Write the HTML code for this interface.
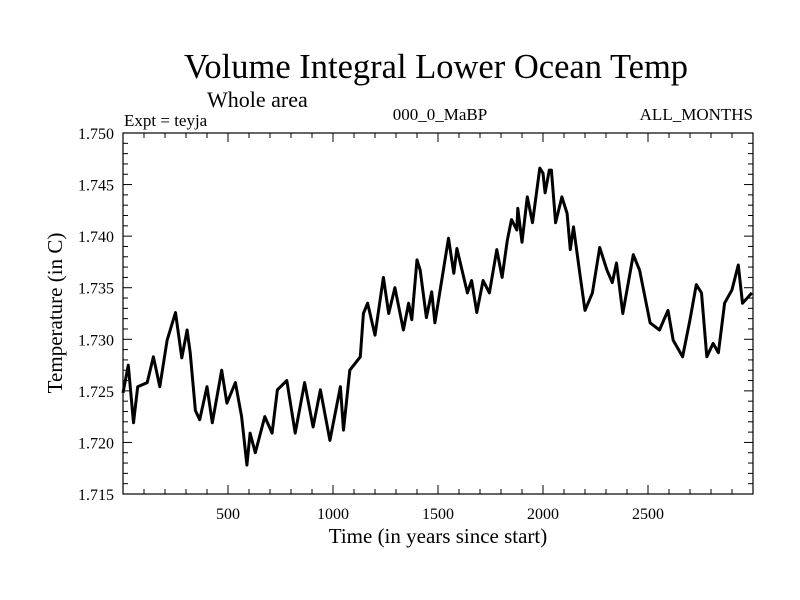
<!DOCTYPE html>
<html><head><meta charset="utf-8"><style>
body{margin:0;background:#fff;}
svg{display:block;font-family:"Liberation Serif",serif;}
</style></head><body>
<svg id="chart" width="800" height="600">
<text x="436" y="78" font-size="34.5" text-anchor="middle">Volume Integral Lower Ocean Temp</text>
<text x="207" y="107" font-size="22">Whole area</text>
<text x="124" y="126" font-size="17">Expt = teyja</text>
<text x="440" y="120" font-size="17" text-anchor="middle">000_0_MaBP</text>
<text x="753" y="120" font-size="17" text-anchor="end">ALL_MONTHS</text>
<text x="438" y="543" font-size="21" text-anchor="middle">Time (in years since start)</text>
<text transform="translate(62,313) rotate(-90)" font-size="21" text-anchor="middle">Temperature (in C)</text>
<g id="axes"></g>
<g id="series"></g>
<rect x="123" y="133" width="630" height="361" fill="none" stroke="#000" stroke-width="1.2"/>
</svg>
<script>
const years = [0,25,50,70,115,145,175,210,250,280,305,320,345,365,400,425,470,495,535,565,590,605,630,675,710,735,780,820,865,905,940,985,1035,1050,1080,1130,1145,1165,1200,1240,1265,1295,1335,1360,1375,1400,1415,1445,1470,1485,1520,1550,1575,1590,1640,1660,1685,1715,1745,1780,1805,1830,1850,1875,1880,1900,1925,1950,1985,2000,2010,2030,2040,2060,2090,2115,2130,2145,2175,2200,2235,2270,2305,2330,2350,2380,2430,2460,2510,2555,2595,2620,2665,2700,2730,2755,2780,2810,2835,2865,2900,2930,2950,2995];
const temps = [1.7248,1.7275,1.7219,1.7254,1.7258,1.7283,1.7254,1.7299,1.7326,1.7282,1.7309,1.7287,1.7231,1.7222,1.7254,1.7219,1.7270,1.7238,1.7258,1.7225,1.7178,1.7209,1.7190,1.7225,1.7209,1.7251,1.7260,1.7209,1.7258,1.7215,1.7251,1.7202,1.7254,1.7212,1.7270,1.7283,1.7325,1.7335,1.7304,1.7360,1.7325,1.7350,1.7309,1.7335,1.7319,1.7377,1.7367,1.7321,1.7346,1.7316,1.7360,1.7398,1.7364,1.7388,1.7345,1.7357,1.7326,1.7357,1.7345,1.7387,1.7360,1.7396,1.7416,1.7406,1.7427,1.7394,1.7438,1.7413,1.7466,1.7461,1.7442,1.7464,1.7464,1.7413,1.7438,1.7422,1.7387,1.7409,1.7364,1.7328,1.7345,1.7389,1.7367,1.7355,1.7374,1.7325,1.7382,1.7367,1.7316,1.7309,1.7328,1.7299,1.7283,1.7319,1.7353,1.7345,1.7283,1.7296,1.7287,1.7335,1.7348,1.7372,1.7335,1.7345];
const xTickLabels = [500,1000,1500,2000,2500];
const yTickLabels = ["1.715","1.720","1.725","1.730","1.735","1.740","1.745","1.750"];

const NS="http://www.w3.org/2000/svg";
const X0=123,X1=753,Y0=494,Y1=133,xmin=0,xmax=3000,ymin=1.715,ymax=1.750;
const xs=v=>X0+(v-xmin)/(xmax-xmin)*(X1-X0);
const ys=v=>Y0-(v-ymin)/(ymax-ymin)*(Y0-Y1);
const axes=document.getElementById('axes');
function ln(x1,y1,x2,y2){const l=document.createElementNS(NS,'line');l.setAttribute('x1',x1);l.setAttribute('y1',y1);l.setAttribute('x2',x2);l.setAttribute('y2',y2);l.setAttribute('stroke','#000');l.setAttribute('stroke-width','1');axes.appendChild(l);return l;}
function tx(x,y,s,anchor){const t=document.createElementNS(NS,'text');t.setAttribute('x',x);t.setAttribute('y',y);t.setAttribute('font-size','16');t.setAttribute('text-anchor',anchor);t.textContent=s;axes.appendChild(t);return t;}
for(let v=100;v<3000;v+=100){
  const x=xs(v), major=v%500===0, L=major?9:5;
  const a=ln(x,Y0,x,Y0-L);
  
  
  const b=ln(x,Y1,x,Y1+L);
  
  
}
xTickLabels.forEach(v=>{
  const t=tx(xs(v),519,String(v),'middle');
  
  
});
for(let i=1;i<35;i++){
  const v=ymin+i*0.001, y=ys(v), major=i%5===0, L=major?9:5;
  const a=ln(X0,y,X0+L,y);
  
  
  const b=ln(X1,y,X1-L,y);
  
  
}
yTickLabels.forEach(s=>{
  const t=tx(114,ys(parseFloat(s))+6,s,'end');
  
  
});
const pl=document.createElementNS(NS,'polyline');
pl.setAttribute('points',years.map((t,i)=>xs(t).toFixed(1)+','+ys(temps[i]).toFixed(1)).join(' '));
pl.setAttribute('fill','none');pl.setAttribute('stroke','#000');pl.setAttribute('stroke-width','3');pl.setAttribute('stroke-linejoin','round');


document.getElementById('series').appendChild(pl);
</script>
</body></html>
